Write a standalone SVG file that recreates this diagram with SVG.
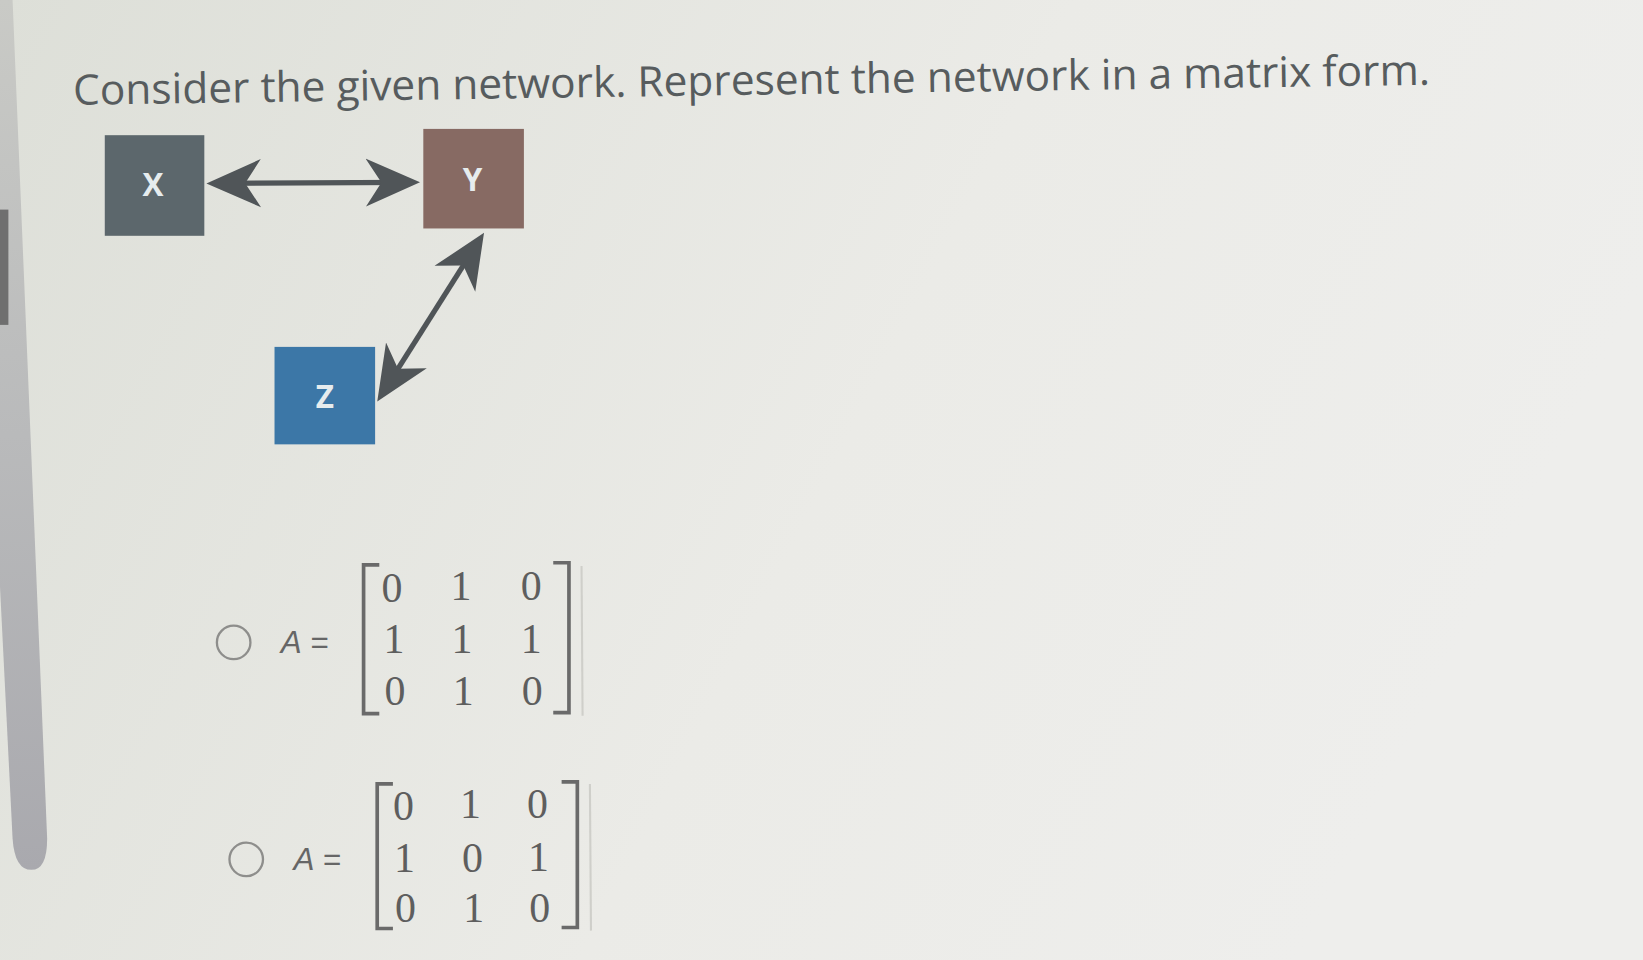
<svg xmlns="http://www.w3.org/2000/svg" width="1643" height="960" viewBox="0 0 1643 960">
<style>
.node text{font-family:"Open Sans","DejaVu Sans",sans-serif;font-weight:bold;font-size:30px;fill:#e6ecee;text-anchor:middle}
.edge{stroke:#505558;stroke-width:5;fill:none}
.num{font-family:"Liberation Serif","DejaVu Serif",serif;font-size:40px;fill:#5e5e5e;text-anchor:middle}
.aeq{font-family:"Liberation Sans","DejaVu Sans",sans-serif;font-size:30px;fill:#666}
.br{stroke:#6a6a6a;stroke-width:3.5;fill:none}
.faint{stroke:#cfcfca;stroke-width:2;fill:none}
.radio{stroke:#8e8e8c;stroke-width:2.2;fill:none}
</style>
<defs>
<linearGradient id="bg" x1="0" y1="0" x2="1" y2="0.3">
<stop offset="0" stop-color="#dddfd8"/>
<stop offset="0.6" stop-color="#ebebe7"/>
<stop offset="1" stop-color="#eeeeec"/>
</linearGradient>
<linearGradient id="sb" x1="0" y1="0" x2="0" y2="1">
<stop offset="0" stop-color="#c9cac6"/>
<stop offset="0.5" stop-color="#b9babb"/>
<stop offset="1" stop-color="#a9a9ae"/>
</linearGradient>
<marker id="ah" markerUnits="userSpaceOnUse" viewBox="0 -24 52 48" refX="42" refY="0" markerWidth="52" markerHeight="48" orient="auto-start-reverse">
<path d="M52,0 L0,-23 L15,0 L0,23 Z" fill="#505558"/>
</marker>
</defs>
<rect width="1643" height="960" fill="url(#bg)"/>
<g transform="scale(1.0478,1.048)">
<path d="M0,0 L12,0 L45,800 Q45,830 30,830 Q14,830 12,800 L0,560 Z" fill="url(#sb)"/>
<rect x="0" y="200" width="8" height="110" fill="#6f6f6f"/>
<text transform="rotate(-0.85 70 100)" x="70" y="100" textLength="1295" lengthAdjust="spacingAndGlyphs" style="font-family:'Open Sans','DejaVu Sans',sans-serif;font-size:40px;fill:#575c5e">Consider the given network. Represent the network in a matrix form.</text>
<g id="connectors">
<line class="edge" x1="207" y1="175" x2="391" y2="174" marker-start="url(#ah)" marker-end="url(#ah)"/>
<line class="edge" x1="456.6" y1="230.5" x2="365.4" y2="374.6" marker-start="url(#ah)" marker-end="url(#ah)"/>
</g>
<g id="node-X" class="node">
<rect x="100" y="129" width="95" height="96" fill="#5c676c"/>
<text x="146" y="187">X</text>
</g>
<g id="node-Y" class="node">
<rect x="404" y="123" width="96" height="95" fill="#876a63"/>
<text x="451" y="182">Y</text>
</g>
<g id="node-Z" class="node">
<rect x="262" y="331" width="96" height="93" fill="#3c77a7"/>
<text x="310" y="389">Z</text>
</g>
<g id="option-1">
<circle class="radio" cx="223" cy="613" r="16"/>
<text class="aeq" x="268" y="623"><tspan font-style="italic">A</tspan> =</text>
<path class="br" d="M362,539 H347 V681 H362"/>
<path class="br" d="M528,537 H543 V680 H528"/>
<line class="faint" x1="555" y1="540" x2="556" y2="683"/>
<text class="num" x="374" y="574">0</text><text class="num" x="440" y="573">1</text><text class="num" x="507" y="573">0</text>
<text class="num" x="376" y="623">1</text><text class="num" x="441" y="623">1</text><text class="num" x="507" y="623">1</text>
<text class="num" x="377" y="673">0</text><text class="num" x="442" y="673">1</text><text class="num" x="508" y="673">0</text>
</g>
<g id="option-2">
<circle class="radio" cx="235" cy="820" r="16"/>
<text class="aeq" x="280" y="830"><tspan font-style="italic">A</tspan> =</text>
<path class="br" d="M375,748 H360 V886 H375"/>
<path class="br" d="M536,746 H551 V885 H536"/>
<line class="faint" x1="563" y1="748" x2="564" y2="888"/>
<text class="num" x="385" y="782">0</text><text class="num" x="449" y="781">1</text><text class="num" x="513" y="781">0</text>
<text class="num" x="386" y="832">1</text><text class="num" x="451" y="832">0</text><text class="num" x="514" y="831">1</text>
<text class="num" x="387" y="880">0</text><text class="num" x="452" y="880">1</text><text class="num" x="515" y="880">0</text>
</g>
</g>
</svg>
